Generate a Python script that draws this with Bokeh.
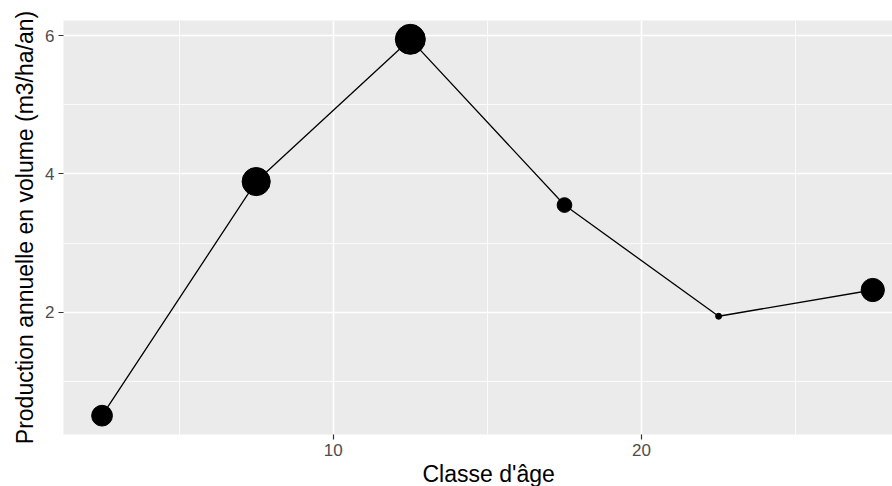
import math
from bokeh.plotting import figure
from bokeh.models import ColumnDataSource, FixedTicker, Title
from bokeh.embed import file_html
from bokeh.resources import INLINE

# Data
classe_age = [2.5, 7.5, 12.5, 17.5, 22.5, 27.5]
production = [0.50, 3.89, 5.95, 3.55, 1.94, 2.32]
poids = [12, 22, 25, 6, 1, 15]  # relative weight shown by point area

x_ticks = [10, 20]
x_minor = [5, 15, 25]
y_ticks = [2, 4, 6]
y_minor = [1, 3, 5]

x_title = "Classe d'âge"
y_title = "Production annuelle en volume (m3/ha/an)"

FONT = "Liberation Sans"

src = ColumnDataSource(dict(
    x=classe_age,
    y=production,
    s=[6.0 * math.sqrt(w) for w in poids],
))

p = figure(
    width=892, height=486,
    x_range=(1.25, 28.14), y_range=(0.2275, 6.2225),
    output_backend="svg", toolbar_location=None,
    min_border_left=63, min_border_right=0,
    min_border_top=20, min_border_bottom=52,
)
p.background_fill_color = "#EBEBEB"
p.border_fill_color = "white"
p.outline_line_color = None

p.xaxis.ticker = FixedTicker(ticks=x_ticks, minor_ticks=x_minor)
p.yaxis.ticker = FixedTicker(ticks=y_ticks, minor_ticks=y_minor)

for g in (p.xgrid[0], p.ygrid[0]):
    g.grid_line_color = "white"
    g.grid_line_width = 1.6
    g.minor_grid_line_color = "white"
    g.minor_grid_line_width = 0.8

for ax in (p.xaxis[0], p.yaxis[0]):
    ax.axis_line_color = None
    ax.major_tick_line_color = "#333333"
    ax.major_tick_line_width = 1.2
    ax.major_tick_out = 5
    ax.major_tick_in = 0
    ax.minor_tick_line_color = None
    ax.major_label_text_font = FONT
    ax.major_label_text_font_size = "17px"
    ax.major_label_text_color = "#4D4D4D"
    ax.major_label_standoff = 4

p.yaxis.axis_label = y_title
p.yaxis.axis_label_text_font = FONT
p.yaxis.axis_label_text_font_size = "23px"
p.yaxis.axis_label_text_font_style = "normal"
p.yaxis.axis_label_text_color = "black"
p.yaxis.axis_label_standoff = 4

p.add_layout(Title(
    text=x_title, align="left", offset=359, standoff=0,
    text_font=FONT, text_font_size="23px", text_font_style="normal",
    text_color="black",
), "below")

p.line("x", "y", source=src, line_color="black", line_width=1.3)
p.scatter("x", "y", size="s", source=src, fill_color="black", line_color="black")

open("out.html", "w").write(file_html(p, INLINE))
